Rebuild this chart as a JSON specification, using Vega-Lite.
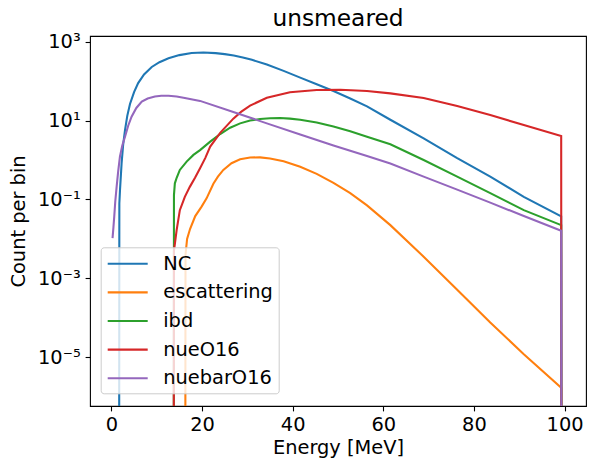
{
  "$schema": "https://vega.github.io/schema/vega-lite/v6.json",
  "width": 496,
  "height": 370,
  "autosize": "none",
  "padding": {"left": 90, "top": 36, "right": 10, "bottom": 63},
  "title": {"text": "unsmeared", "frame": "group", "anchor": "middle", "offset": 0},
  "data": {
    "values": [
      {"series": "NC", "E": 1.7, "count": 1e-9},
      {"series": "NC", "E": 1.75, "count": 0.0794},
      {"series": "NC", "E": 1.9, "count": 0.178},
      {"series": "NC", "E": 2.25, "count": 0.832},
      {"series": "NC", "E": 2.6, "count": 2.51},
      {"series": "NC", "E": 3.0, "count": 5.75},
      {"series": "NC", "E": 3.5, "count": 13.2},
      {"series": "NC", "E": 4.1, "count": 26.3},
      {"series": "NC", "E": 5.0, "count": 52.5},
      {"series": "NC", "E": 5.9, "count": 89.1},
      {"series": "NC", "E": 7.2, "count": 148},
      {"series": "NC", "E": 8.9, "count": 229},
      {"series": "NC", "E": 10.6, "count": 302},
      {"series": "NC", "E": 12.6, "count": 380},
      {"series": "NC", "E": 15.0, "count": 457},
      {"series": "NC", "E": 17.7, "count": 519},
      {"series": "NC", "E": 20.3, "count": 531},
      {"series": "NC", "E": 23.0, "count": 513},
      {"series": "NC", "E": 25.0, "count": 484},
      {"series": "NC", "E": 27.0, "count": 447},
      {"series": "NC", "E": 29.0, "count": 398},
      {"series": "NC", "E": 31.0, "count": 347},
      {"series": "NC", "E": 34.3, "count": 263},
      {"series": "NC", "E": 38.0, "count": 182},
      {"series": "NC", "E": 41.66, "count": 123},
      {"series": "NC", "E": 45.3, "count": 83.2},
      {"series": "NC", "E": 49.0, "count": 56.2},
      {"series": "NC", "E": 52.7, "count": 36.3},
      {"series": "NC", "E": 56.4, "count": 22.9},
      {"series": "NC", "E": 61.55, "count": 10.5},
      {"series": "NC", "E": 68.9, "count": 3.55},
      {"series": "NC", "E": 76.3, "count": 1.12},
      {"series": "NC", "E": 83.6, "count": 0.38},
      {"series": "NC", "E": 91.0, "count": 0.117},
      {"series": "NC", "E": 99.25, "count": 0.0372},
      {"series": "NC", "E": 99.3, "count": 1e-9},

      {"series": "escattering", "E": 16.3, "count": 1e-9},
      {"series": "escattering", "E": 16.35, "count": 0.00398},
      {"series": "escattering", "E": 16.7, "count": 0.01},
      {"series": "escattering", "E": 17.35, "count": 0.0178},
      {"series": "escattering", "E": 18.5, "count": 0.038},
      {"series": "escattering", "E": 19.9, "count": 0.0661},
      {"series": "escattering", "E": 21.0, "count": 0.107},
      {"series": "escattering", "E": 22.5, "count": 0.251},
      {"series": "escattering", "E": 23.5, "count": 0.38},
      {"series": "escattering", "E": 24.7, "count": 0.562},
      {"series": "escattering", "E": 26.5, "count": 0.832},
      {"series": "escattering", "E": 28.4, "count": 1.047},
      {"series": "escattering", "E": 30.6, "count": 1.16},
      {"series": "escattering", "E": 32.8, "count": 1.17},
      {"series": "escattering", "E": 35.0, "count": 1.1},
      {"series": "escattering", "E": 38.0, "count": 0.933},
      {"series": "escattering", "E": 41.66, "count": 0.676},
      {"series": "escattering", "E": 45.3, "count": 0.447},
      {"series": "escattering", "E": 49.0, "count": 0.263},
      {"series": "escattering", "E": 52.7, "count": 0.145},
      {"series": "escattering", "E": 56.4, "count": 0.0708},
      {"series": "escattering", "E": 61.55, "count": 0.0224},
      {"series": "escattering", "E": 68.9, "count": 0.00355},
      {"series": "escattering", "E": 76.3, "count": 0.000513},
      {"series": "escattering", "E": 83.6, "count": 0.0000759},
      {"series": "escattering", "E": 91.0, "count": 0.000012},
      {"series": "escattering", "E": 99.25, "count": 0.0000017},
      {"series": "escattering", "E": 99.3, "count": 1e-9},

      {"series": "ibd", "E": 13.75, "count": 1e-9},
      {"series": "ibd", "E": 13.8, "count": 0.129},
      {"series": "ibd", "E": 14.0, "count": 0.257},
      {"series": "ibd", "E": 14.4, "count": 0.355},
      {"series": "ibd", "E": 15.1, "count": 0.562},
      {"series": "ibd", "E": 16.6, "count": 0.912},
      {"series": "ibd", "E": 18.1, "count": 1.35},
      {"series": "ibd", "E": 19.56, "count": 1.78},
      {"series": "ibd", "E": 21.8, "count": 2.92},
      {"series": "ibd", "E": 24.0, "count": 4.57},
      {"series": "ibd", "E": 26.2, "count": 6.61},
      {"series": "ibd", "E": 28.4, "count": 8.51},
      {"series": "ibd", "E": 30.6, "count": 10.0},
      {"series": "ibd", "E": 32.8, "count": 11.0},
      {"series": "ibd", "E": 35.0, "count": 11.5},
      {"series": "ibd", "E": 37.2, "count": 11.6},
      {"series": "ibd", "E": 39.4, "count": 11.2},
      {"series": "ibd", "E": 41.66, "count": 10.5},
      {"series": "ibd", "E": 45.3, "count": 8.91},
      {"series": "ibd", "E": 49.0, "count": 7.08},
      {"series": "ibd", "E": 52.7, "count": 5.37},
      {"series": "ibd", "E": 56.4, "count": 3.89},
      {"series": "ibd", "E": 61.55, "count": 2.51},
      {"series": "ibd", "E": 68.9, "count": 1.0},
      {"series": "ibd", "E": 76.3, "count": 0.38},
      {"series": "ibd", "E": 83.6, "count": 0.145},
      {"series": "ibd", "E": 91.0, "count": 0.0537},
      {"series": "ibd", "E": 99.25, "count": 0.0224},
      {"series": "ibd", "E": 99.3, "count": 1e-9},

      {"series": "nueO16", "E": 13.75, "count": 1e-9},
      {"series": "nueO16", "E": 13.8, "count": 0.00501},
      {"series": "nueO16", "E": 14.4, "count": 0.017},
      {"series": "nueO16", "E": 15.1, "count": 0.0537},
      {"series": "nueO16", "E": 16.2, "count": 0.117},
      {"series": "nueO16", "E": 17.3, "count": 0.209},
      {"series": "nueO16", "E": 18.45, "count": 0.355},
      {"series": "nueO16", "E": 19.56, "count": 0.617},
      {"series": "nueO16", "E": 20.7, "count": 1.12},
      {"series": "nueO16", "E": 21.8, "count": 2.19},
      {"series": "nueO16", "E": 24.0, "count": 4.9},
      {"series": "nueO16", "E": 26.9, "count": 11.2},
      {"series": "nueO16", "E": 28.6, "count": 16.6},
      {"series": "nueO16", "E": 30.6, "count": 24.0},
      {"series": "nueO16", "E": 34.3, "count": 38.0},
      {"series": "nueO16", "E": 39.4, "count": 52.5},
      {"series": "nueO16", "E": 45.3, "count": 59.6},
      {"series": "nueO16", "E": 50.5, "count": 60.3},
      {"series": "nueO16", "E": 56.4, "count": 56.2},
      {"series": "nueO16", "E": 61.55, "count": 49.0},
      {"series": "nueO16", "E": 68.9, "count": 37.2},
      {"series": "nueO16", "E": 76.3, "count": 23.4},
      {"series": "nueO16", "E": 83.6, "count": 13.8},
      {"series": "nueO16", "E": 91.0, "count": 7.76},
      {"series": "nueO16", "E": 99.25, "count": 4.07},
      {"series": "nueO16", "E": 99.3, "count": 1e-9},

      {"series": "nuebarO16", "E": 0.25, "count": 0.0105},
      {"series": "nuebarO16", "E": 0.45, "count": 0.02},
      {"series": "nuebarO16", "E": 0.62, "count": 0.0363},
      {"series": "nuebarO16", "E": 0.85, "count": 0.0891},
      {"series": "nuebarO16", "E": 1.15, "count": 0.209},
      {"series": "nuebarO16", "E": 1.5, "count": 0.525},
      {"series": "nuebarO16", "E": 1.88, "count": 1.22},
      {"series": "nuebarO16", "E": 2.4, "count": 2.34},
      {"series": "nuebarO16", "E": 3.0, "count": 3.89},
      {"series": "nuebarO16", "E": 3.7, "count": 7.41},
      {"series": "nuebarO16", "E": 4.45, "count": 12.6},
      {"series": "nuebarO16", "E": 5.5, "count": 20.9},
      {"series": "nuebarO16", "E": 6.7, "count": 30.2},
      {"series": "nuebarO16", "E": 8.0, "count": 36.3},
      {"series": "nuebarO16", "E": 9.6, "count": 40.7},
      {"series": "nuebarO16", "E": 11.0, "count": 42.7},
      {"series": "nuebarO16", "E": 12.6, "count": 42.7},
      {"series": "nuebarO16", "E": 14.4, "count": 40.7},
      {"series": "nuebarO16", "E": 16.2, "count": 37.2},
      {"series": "nuebarO16", "E": 19.56, "count": 31.6},
      {"series": "nuebarO16", "E": 26.9, "count": 16.6},
      {"series": "nuebarO16", "E": 34.3, "count": 8.51},
      {"series": "nuebarO16", "E": 41.66, "count": 4.47},
      {"series": "nuebarO16", "E": 49.0, "count": 2.34},
      {"series": "nuebarO16", "E": 56.4, "count": 1.26},
      {"series": "nuebarO16", "E": 61.55, "count": 0.813},
      {"series": "nuebarO16", "E": 68.9, "count": 0.38},
      {"series": "nuebarO16", "E": 76.3, "count": 0.178},
      {"series": "nuebarO16", "E": 83.6, "count": 0.0832},
      {"series": "nuebarO16", "E": 91.0, "count": 0.038},
      {"series": "nuebarO16", "E": 99.25, "count": 0.0162},
      {"series": "nuebarO16", "E": 99.3, "count": 1e-9}
    ]
  },
  "mark": {"type": "line", "strokeWidth": 2.08, "clip": true},
  "encoding": {
    "x": {
      "field": "E", "type": "quantitative", "title": "Energy [MeV]",
      "scale": {"domain": [-4.725, 104.725], "nice": false, "zero": false},
      "axis": {"values": [0, 20, 40, 60, 80, 100], "format": "d", "labelFlush": false, "titlePadding": 4}
    },
    "y": {
      "field": "count", "type": "quantitative", "title": "Count per bin",
      "scale": {"type": "log", "domain": [5.82e-7, 1395], "nice": false},
      "axis": {
        "values": [0.00001, 0.001, 0.1, 10, 1000],
        "labelExpr": "datum.value >= 999 ? '10³' : datum.value >= 9 ? '10¹' : datum.value >= 0.09 ? '10⁻¹' : datum.value >= 0.0009 ? '10⁻³' : '10⁻⁵'",
        "labelFlush": false,
        "titlePadding": 9
      }
    },
    "color": {
      "field": "series", "type": "nominal",
      "scale": {
        "domain": ["NC", "escattering", "ibd", "nueO16", "nuebarO16"],
        "range": ["#1f77b4", "#ff7f0e", "#2ca02c", "#d62728", "#9467bd"]
      },
      "legend": {
        "title": null, "orient": "none", "legendX": 10.7, "legendY": 211.3,
        "symbolType": "M-2,0H2", "symbolSize": 400, "symbolStrokeWidth": 2.08,
        "symbolOffset": 10.5, "labelOffset": 24, "rowPadding": 7.6,
        "padding": 5, "fillColor": "rgba(255,255,255,0.8)", "strokeColor": "#cccccc",
        "cornerRadius": 3
      }
    }
  },
  "config": {
    "font": "DejaVu Sans",
    "view": {"stroke": "black", "strokeWidth": 1.1},
    "axis": {
      "domain": false, "grid": false, "tickColor": "black", "tickSize": 4.9, "tickWidth": 1.1,
      "labelFont": "DejaVu Sans", "labelFontSize": 19.4, "labelColor": "black", "labelPadding": 4.9,
      "titleFont": "DejaVu Sans", "titleFontSize": 19.4, "titleFontWeight": "normal", "titleColor": "black"
    },
    "legend": {"labelFont": "DejaVu Sans", "labelFontSize": 19.4, "labelColor": "black", "labelLimit": 300},
    "title": {"font": "DejaVu Sans", "fontSize": 23.3, "fontWeight": "normal", "color": "black"}
  }
}
